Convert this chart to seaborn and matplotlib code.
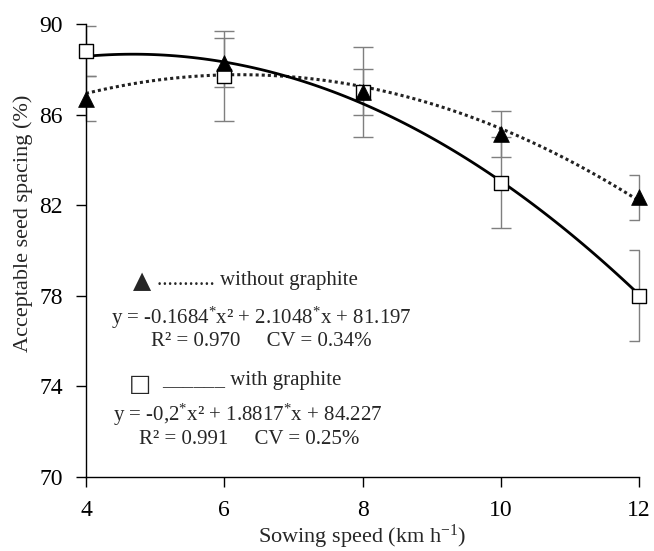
import numpy as np
import pandas as pd
import matplotlib
matplotlib.use("Agg")
import matplotlib.pyplot as plt
import seaborn as sns

# ---- data ----
speed = [4, 6, 8, 10, 12]
without_graphite = [86.7, 88.3, 87.0, 85.15, 82.35]
without_err = [1.0, 1.1, 1.0, 1.0, 1.0]
with_graphite = [88.8, 87.7, 87.0, 83.0, 78.0]
with_err = [1.1, 2.0, 2.0, 2.0, 2.0]
x_ticks = [4, 6, 8, 10, 12]
y_ticks = [70, 74, 78, 82, 86, 90]

sns.set_style("ticks")
plt.rcParams["font.family"] = ["Liberation Serif", "DejaVu Serif"]
plt.rcParams["mathtext.fontset"] = "custom"
plt.rcParams["mathtext.rm"] = "Liberation Serif"
plt.rcParams["mathtext.it"] = "Liberation Serif"
plt.rcParams["mathtext.bf"] = "Liberation Serif:bold"

df_wo = pd.DataFrame({"speed": speed, "val": without_graphite, "err": without_err})
df_w = pd.DataFrame({"speed": speed, "val": with_graphite, "err": with_err})

fig = plt.figure(figsize=(6.54, 5.51), dpi=100)
ax = fig.add_axes([86 / 654, 1 - 477 / 551, (639 - 86) / 654, (477 - 24) / 551])

# error bars (gray); caps clipped at the axes edges, bars not
for d in (df_wo, df_w):
    cont = ax.errorbar(d["speed"], d["val"], yerr=d["err"], fmt="none", ecolor="#7f7f7f",
                       elinewidth=1.0, capsize=7.5, capthick=1.0, zorder=2)
    for bl in cont[2]:
        bl.set_clip_on(False)

# quadratic trend lines
sns.regplot(data=df_wo, x="speed", y="val", order=2, ci=None, scatter=False, ax=ax,
            truncate=True,
            line_kws=dict(color="#222222", lw=2.2, linestyle=(0, (1, 1)), zorder=3))
sns.regplot(data=df_w, x="speed", y="val", order=2, ci=None, scatter=False, ax=ax,
            truncate=True,
            line_kws=dict(color="black", lw=2.0, linestyle="-", zorder=3))

# markers
sns.scatterplot(data=df_w, x="speed", y="val", marker="s", s=110, facecolor="white",
                edgecolor="black", linewidth=1.0, ax=ax, zorder=4, clip_on=False)
sns.scatterplot(data=df_wo, x="speed", y="val", marker="^", s=130, color="black",
                edgecolor="black", linewidth=0.5, ax=ax, zorder=5, clip_on=False)

ax.set_xlim(4, 12)
ax.set_ylim(70, 90)
ax.set_xticks(x_ticks)
ax.set_yticks(y_ticks)
ax.tick_params(axis="both", direction="out", length=7.5, width=1.0, labelsize=17,
               colors="black", pad=9)
for s in ("top", "right"):
    ax.spines[s].set_visible(False)
for s in ("left", "bottom"):
    ax.spines[s].set_color("black")
    ax.spines[s].set_linewidth(1.0)

ax.set_xlabel("Sowing speed (km h$^{-1}$)", fontsize=16, labelpad=1)
ax.set_ylabel("Acceptable seed spacing (%)", fontsize=16)
ax.yaxis.set_label_coords(-0.096, 0.56)

# legend / equations block
fs = 15
def fx(px):
    return px / 654
def fy(py):
    return 1 - py / 551

fig.text(fx(142), fy(281), "\u25B2", family="DejaVu Sans", fontsize=17, ha="center", va="center")
fig.text(fx(157), fy(281), "........... without graphite", fontsize=fs, ha="left", va="center")
fig.text(fx(261), fy(318), "y = -0.1684$^{*}$x\u00b2 + 2.1048$^{*}$x + 81.197", fontsize=fs,
         ha="center", va="center")
fig.text(fx(261), fy(342), "R\u00b2 = 0.970     CV = 0.34%", fontsize=fs, ha="center", va="center")

fig.text(fx(140), fy(384), "\u25A1", family="DejaVu Sans", fontsize=17, ha="center", va="center")
fig.text(fx(162), fy(381), "______ with graphite", fontsize=fs, ha="left", va="center")
fig.text(fx(248), fy(415), "y = -0,2$^{*}$x\u00b2 + 1.8817$^{*}$x + 84.227", fontsize=fs,
         ha="center", va="center")
fig.text(fx(249), fy(439), "R\u00b2 = 0.991     CV = 0.25%", fontsize=fs, ha="center", va="center")

fig.savefig("out.png", dpi=100)
